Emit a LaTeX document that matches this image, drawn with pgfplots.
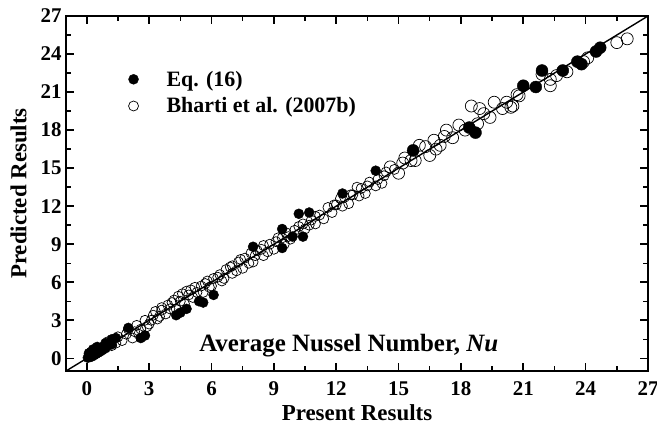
\documentclass[border=0pt]{standalone}
\usepackage{pgfplots}
\pgfplotsset{compat=1.18}
\usepackage{fontspec}
\setmainfont{Liberation Serif}
\begin{document}
\begin{tikzpicture}
\begin{axis}[
  name=ax,
  scale only axis,
  width=582bp, height=355bp,
  xmin=-1, xmax=27, ymin=-1, ymax=27,
  xtick={0,3,...,27}, ytick={0,3,...,27},
  minor xtick={1.5,4.5,...,25.5}, minor ytick={1.5,4.5,...,25.5},
  tick align=inside,
  major tick length=8bp, minor tick length=5bp,
  every major tick/.style={line width=1.6bp, black},
  every minor tick/.style={line width=1.4bp, black},
  axis line style={line width=2bp},
  /pgf/number format/assume math mode=true,
  ticklabel style={font=\fontsize{21}{21}\selectfont\bfseries},
  xticklabel style={yshift=-7bp},
  yticklabel style={xshift=-1bp},
  xlabel={Present Results},
  ylabel={Predicted Results},
  label style={font=\fontsize{23}{23}\selectfont\bfseries},
  xlabel style={yshift=-2bp},
  ylabel style={yshift=7bp},
  legend style={at={(0.102,0.857)}, anchor=north west, draw=none, fill=none,
    font=\fontsize{22}{22}\selectfont\bfseries, row sep=6bp, column sep=26bp},
  legend cell align=left,
  clip=true,
]
\addplot[line width=1.4bp, black, forget plot] coordinates {(-1,-1) (27,27)};
% Eq. (16) filled circles
\addplot[only marks, mark=*, mark size=5bp, black, mark options={fill=black}] coordinates {
(0.05,0.05) (0.1,0.2) (0.15,0.1) (0.2,0.3) (0.25,0.15) (0.3,0.4) (0.35,0.25) (0.4,0.5)
(0.45,0.35) (0.5,0.6) (0.55,0.45) (0.6,0.75) (0.65,0.55) (0.7,0.85) (0.75,0.65) (0.8,0.9)
(0.9,0.8) (1.0,1.0) (1.1,1.15) (1.2,1.1) (0.3,0.7) (0.5,0.9) (0.2,0.5) (0.1,0.4)
(1.2,1.5) (1.4,1.6) (0.9,1.2) (2.0,2.4) (2.6,1.6) (2.8,1.8) (4.3,3.4) (4.5,3.6) (4.8,3.9)
(5.4,4.5) (5.6,4.4) (6.1,5.0) (8.0,8.8) (9.4,8.7) (9.9,9.6) (9.4,10.2) (10.2,11.4)
(10.7,11.5) (10.4,9.6) (12.3,13.0) (13.9,14.8)
};
\addlegendentry{Eq. (16)}
% Bharti et al. open circles
\addplot[only marks, mark=o, mark size=5bp, black, line width=0.7bp] coordinates {
(1.0,1.3) (1.2,1.0) (1.5,1.7) (1.7,1.4) (2.0,2.3) (2.2,1.6) (2.4,2.6) (2.5,1.9) (2.6,2.3)
(2.8,3.0) (3.0,2.7) (3.2,3.4) (3.4,3.1) (3.6,3.8) (3.6,4.0) (3.9,4.2) (4.2,4.6) (4.4,4.9)
(4.6,5.1) (4.8,5.3) (5.0,5.4) (5.2,5.6) (5.5,5.7) (5.8,6.1) (6.1,6.3) (6.4,6.6) (6.7,7.0)
(7.0,7.3) (7.3,7.6) (7.6,7.9) (7.9,8.3) (8.2,8.5) (8.5,8.9) (8.8,9.0) (3.8,3.5) (4.3,3.9)
(4.7,4.3) (5.1,4.8) (5.6,5.2) (6.0,5.7) (6.5,6.1) (7.0,6.7) (7.5,7.1) (8.0,7.6) (8.5,8.1)
(9.0,8.6) (9.5,9.0) (9.8,9.4) (9.2,9.5) (9.6,9.9) (10.0,10.1) (10.4,10.6) (10.8,10.9)
(11.2,11.3) (11.6,11.9) (12.0,12.1) (12.4,12.7) (12.8,12.9) (13.2,13.4) (13.6,13.9)
(14.0,14.1) (14.4,14.7) (14.8,14.9) (11.0,10.6) (11.8,11.5) (12.6,12.2) (13.4,13.0)
(14.2,13.8) (10.5,10.2) (12.2,12.6) (13.0,13.5)
(1.4,1.2) (1.9,1.9) (2.3,2.1) (2.9,2.5) (3.1,3.0) (3.3,3.7) (3.5,3.3) (4.0,3.9) (4.1,4.4)
(4.5,4.5) (4.9,5.0) (5.3,5.2) (5.7,5.9) (5.9,5.6) (6.3,6.4) (6.6,6.3) (6.9,7.2) (7.2,6.9)
(7.4,7.8) (7.8,7.5) (8.1,8.1) (8.4,8.6) (8.7,8.4) (9.1,9.2) (9.4,9.5) (9.7,9.6) (10.2,10.4)
(10.7,10.5) (11.0,11.2) (11.4,11.0) (11.9,12.1) (12.3,12.0) (12.7,12.9) (13.1,12.8)
(13.5,13.6) (13.9,13.6) (14.3,14.4)
};
\addlegendentry{Bharti et al. (2007b)}
\addplot[only marks, mark=*, mark size=6bp, black, mark options={fill=black}, forget plot] coordinates {
(15.7,16.4) (18.4,18.2) (18.7,17.8) (21.0,21.5) (21.6,21.4) (21.9,22.7) (22.9,22.7)
(23.6,23.4) (23.8,23.2) (24.5,24.2) (24.7,24.5)
};
\addplot[only marks, mark=o, mark size=6bp, black, line width=0.7bp, forget plot] coordinates {
(15.0,14.6) (14.6,15.1) (15.2,15.4) (15.6,15.6) (15.3,15.8) (16.0,16.8) (16.3,16.7)
(16.5,16.0) (16.7,17.2) (17.2,17.5) (17.3,18.0) (17.9,18.4) (18.5,19.9) (18.8,18.5)
(18.9,19.7) (19.1,19.3) (19.6,20.2) (20.2,20.2) (20.4,19.8) (20.7,20.8) (17.0,16.8)
(17.6,17.4) (18.2,18.0) (16.8,16.5) (15.8,15.6) (19.4,19.0) (20.0,19.7) (20.5,19.9)
(20.8,20.7) (21.9,22.4) (22.3,22.0) (22.3,21.5) (23.1,22.6) (24.1,23.7) (25.5,24.9)
(26.0,25.2) (22.6,22.3) (23.9,23.4)
};
\node[anchor=base, font=\fontsize{25}{25}\selectfont\bfseries] at (axis cs:12.6,0.55) {Average Nussel Number, \textit{Nu}};
\end{axis}
\pgfresetboundingbox
\path ([shift={(-66bp,-58bp)}]ax.south west) rectangle ([shift={(9bp,16bp)}]ax.north east);
\end{tikzpicture}
\end{document}
